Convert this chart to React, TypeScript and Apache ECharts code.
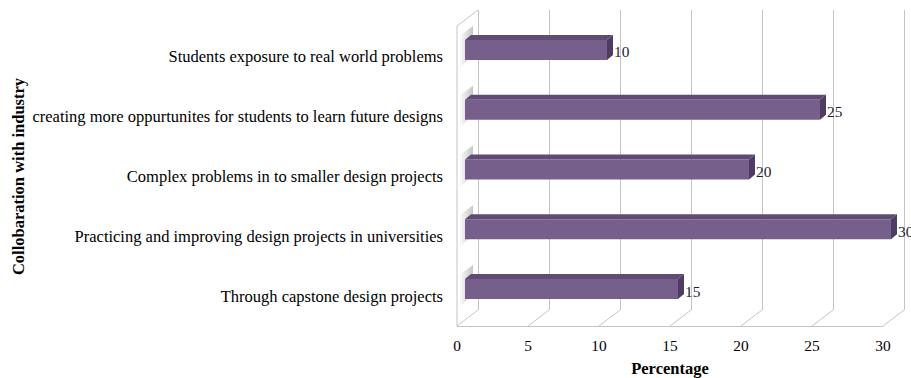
import React, { useEffect, useRef } from "react";
import * as echarts from "echarts";

const categories = [
  "Students exposure to real world problems",
  "creating more oppurtunites for students to learn future designs",
  "Complex problems in to smaller design projects",
  "Practicing and improving design projects in universities",
  "Through capstone design projects",
];
const values = [10, 25, 20, 30, 15];
const ticks = [0, 5, 10, 15, 20, 25, 30];

const FONT = "'Liberation Serif', 'Times New Roman', serif";
const DEPTH_X = 21;
const DEPTH_Y = 16;
const BAR_H = 20;
const BAR_DX = 6;
const BAR_DY = 5;
const GRID_COLOR = "#c4c4c4";

export default function App() {
  const ref = useRef<HTMLDivElement>(null);
  useEffect(() => {
    if (!ref.current) return;
    const chart = echarts.init(ref.current, undefined, { renderer: "svg" });
    const option: any = {
      animation: false,
      backgroundColor: "#ffffff",
      grid: [
        { left: 457, top: 27, width: 426, height: 299, outerBoundsMode: "none", containLabel: false },
        { left: 478, top: 10, width: 426, height: 300, outerBoundsMode: "none", containLabel: false },
        { left: 465, top: 20, width: 426, height: 299, outerBoundsMode: "none", containLabel: false },
      ],
      xAxis: [
        {
          gridIndex: 0,
          type: "value",
          min: 0,
          max: 30,
          interval: 5,
          axisLine: { show: true, lineStyle: { color: GRID_COLOR } },
          axisTick: { show: false },
          splitLine: { show: false },
          axisLabel: { margin: 12, fontSize: 15.4, color: "#000", fontFamily: FONT },
          name: "Percentage",
          nameLocation: "middle",
          nameGap: 34,
          nameTextStyle: { fontSize: 16.5, fontWeight: "bold", color: "#000", fontFamily: FONT },
        },
        {
          gridIndex: 1,
          type: "value",
          min: 0,
          max: 30,
          interval: 5,
          axisLine: { show: false },
          axisTick: { show: false },
          axisLabel: { show: false },
          splitLine: { show: true, lineStyle: { color: GRID_COLOR, width: 1 } },
        },
        { gridIndex: 2, type: "value", min: 0, max: 30, show: false },
      ],
      yAxis: [
        {
          gridIndex: 0,
          type: "category",
          data: categories,
          inverse: true,
          axisLine: { show: false },
          axisTick: { show: false },
          splitLine: { show: false },
          axisLabel: { margin: 14, fontSize: 16.5, color: "#000", fontFamily: FONT },
          name: "Collobaration with industry",
          nameLocation: "middle",
          nameGap: 430,
          nameRotate: 90,
          nameTextStyle: { fontSize: 16.5, fontWeight: "bold", color: "#000", fontFamily: FONT },
        },
        { gridIndex: 1, type: "value", show: false },
        { gridIndex: 2, type: "category", data: categories, inverse: true, show: false },
      ],
      series: [
        {
          type: "custom",
          xAxisIndex: 0,
          yAxisIndex: 0,
          silent: true,
          clip: false,
          data: ticks.map((t) => [t, 0]),
          encode: { x: 0, y: 1 },
          renderItem: (params: any, api: any) => {
            const v = api.value(0);
            const x = api.coord([v, 0])[0];
            const cs = params.coordSys;
            const bottom = cs.y + cs.height;
            const children: any[] = [
              {
                type: "line",
                shape: { x1: x, y1: bottom, x2: x + DEPTH_X, y2: bottom - DEPTH_Y },
                style: { stroke: GRID_COLOR, lineWidth: 1 },
              },
            ];
            if (v === 0) {
              const wallTop = 10 + DEPTH_Y;
              children.push(
                {
                  type: "line",
                  shape: { x1: x, y1: wallTop, x2: x, y2: bottom },
                  style: { stroke: GRID_COLOR, lineWidth: 1 },
                },
                {
                  type: "line",
                  shape: { x1: x, y1: wallTop, x2: x + DEPTH_X, y2: wallTop - DEPTH_Y },
                  style: { stroke: GRID_COLOR, lineWidth: 1 },
                }
              );
            }
            return { type: "group", children };
          },
        },
        {
          type: "custom",
          xAxisIndex: 2,
          yAxisIndex: 2,
          silent: true,
          clip: false,
          data: values.map((v, i) => [v, i]),
          encode: { x: 0, y: 1 },
          renderItem: (params: any, api: any) => {
            const v = api.value(0);
            const i = api.value(1);
            const s = api.coord([0, i]);
            const e = api.coord([v, i]);
            const top = s[1] - BAR_H / 2;
            const bot = s[1] + BAR_H / 2;
            return {
              type: "group",
              children: [
                {
                  type: "polygon",
                  shape: {
                    points: [
                      [s[0] - 6, top - 4],
                      [s[0] + 8, top - 14],
                      [s[0] + 8, bot - 4],
                      [s[0] - 6, bot + 8],
                    ],
                  },
                  style: {
                    fill: new echarts.graphic.LinearGradient(1, 0, 0, 0, [
                      { offset: 0, color: "rgba(90,90,90,0.35)" },
                      { offset: 1, color: "rgba(90,90,90,0)" },
                    ]),
                  },
                },
                {
                  type: "polygon",
                  shape: {
                    points: [
                      [s[0], top],
                      [e[0], top],
                      [e[0] + BAR_DX, top - BAR_DY],
                      [s[0] + BAR_DX, top - BAR_DY],
                    ],
                  },
                  style: { fill: "#5f4b74" },
                },
                {
                  type: "polygon",
                  shape: {
                    points: [
                      [e[0], top],
                      [e[0] + BAR_DX, top - BAR_DY],
                      [e[0] + BAR_DX, bot - BAR_DY],
                      [e[0], bot],
                    ],
                  },
                  style: { fill: "#4e3c62" },
                },
                {
                  type: "rect",
                  shape: { x: s[0], y: top, width: e[0] - s[0], height: BAR_H },
                  style: { fill: "#765f8b" },
                },
                {
                  type: "text",
                  style: {
                    text: String(v),
                    x: e[0] + BAR_DX + 1,
                    y: s[1] + 2,
                    verticalAlign: "middle",
                    align: "left",
                    fontSize: 15.4,
                    fontFamily: FONT,
                    fill: "#1b1b2b",
                  },
                },
              ],
            };
          },
        },
      ],
    };
    chart.setOption(option);
    return () => chart.dispose();
  }, []);
  return <div ref={ref} style={{ width: 911, height: 378, position: "absolute", left: 0, top: 0 }} />;
}
